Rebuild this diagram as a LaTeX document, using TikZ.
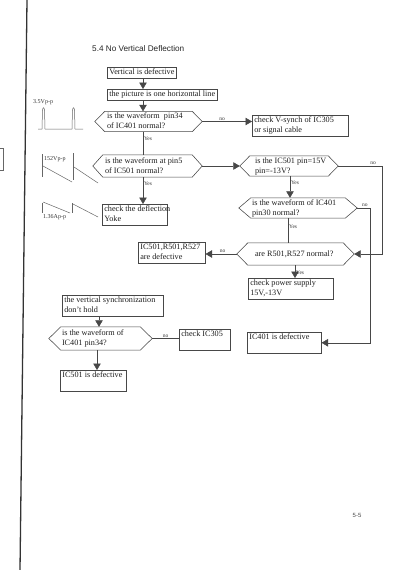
\documentclass[tikz,border=0pt]{standalone}
\usepackage{fontspec}
\setmainfont{Liberation Serif}
\newfontfamily\sansf{Liberation Sans}
\usetikzlibrary{arrows.meta}
\newcommand\txt{\fontsize{8.2}{10}\selectfont}
\newcommand\hexin[3]{\makebox[#1pt][l]{\hspace*{#2pt}\begin{tabular}{@{}l@{}}#3\end{tabular}}}
\newcommand\boxin[2]{\makebox[#1pt][l]{\begin{tabular}{@{}l@{}}#2\end{tabular}}}
\newcommand\hexof[2]{\draw[ln] (#1.west) -- ([xshift=#2pt]#1.north west) -- ([xshift=-#2pt]#1.north east) -- (#1.east) -- ([xshift=-#2pt]#1.south east) -- ([xshift=#2pt]#1.south west) -- cycle;}
\begin{document}
\begin{tikzpicture}[x=1pt,y=-1pt,
 ln/.style={draw=black!72, line width=0.55pt},
 box/.style={ln, anchor=north west, inner xsep=2pt, inner ysep=0.5pt, font=\txt, text=black!88},
 hexa/.style={anchor=center, inner sep=0pt, font=\txt, text=black!88},
 arr/.style={ln, -{Triangle[length=6.5pt,width=7.5pt]}},
 lab/.style={font=\fontsize{5.5}{6}\selectfont, text=black!80, inner sep=0.8pt},
 wlab/.style={font=\fontsize{6}{7}\selectfont, text=black!80, inner sep=0pt, anchor=west},
 wave/.style={draw=black!60, line width=0.5pt}]
\useasboundingbox[fill=white] (0,0) rectangle (400,570);
% x positions of vertical connectors
\coordinate (xA) at (143,0);
\coordinate (xB) at (290,0);
\coordinate (xC) at (288,0);
\coordinate (xD) at (295,0);
\coordinate (xE) at (99,0);
\coordinate (xF) at (97,0);
\coordinate (xR1) at (382,0);
\coordinate (xR2) at (370,0);
% title
\node[font=\sansf\fontsize{8.2}{10}\selectfont, text=black!85, anchor=west, inner sep=0pt] (title) at (92,49) {5.4 No Vertical Deflection};
% flow nodes
\node[box] (b1) at (107,67) {\boxin{65}{Vertical is defective}};
\node[box] (b2) at (107,89) {\boxin{106}{the picture is one horizontal line}};
\node[hexa, minimum height=19pt] (h1) at (148.5,121.5) {\hexin{107}{12}{is the waveform\ \ pin34\\of IC401 normal?}};
\hexof{h1}{10}
\node[box] (chk) at (252,115) {\boxin{92}{check V-synch of IC305\\or signal cable}};
\node[hexa, minimum height=22pt] (h2) at (147.5,166) {\hexin{109}{12}{is the waveform at pin5\\of IC501 normal?}};
\hexof{h2}{10}
\node[hexa, minimum height=20pt] (h3) at (289,166) {\hexin{98}{15}{is the IC501 pin=15V\\pin=-13V?}};
\hexof{h3}{10}
\node[box] (yoke) at (102,204) {\boxin{61}{check the deflection\\Yoke}};
\node[hexa, minimum height=20pt] (h4) at (298,208) {\hexin{118}{13}{is the waveform of IC401\\pin30 normal?}};
\hexof{h4}{12}
\node[hexa, minimum height=22pt] (h5) at (295.5,254) {\hexin{117}{18}{are R501,R527 normal?}};
\hexof{h5}{11}
\node[box] (defa) at (138,242) {\boxin{63}{IC501,R501,R527\\are defective}};
\node[box] (pwr) at (248,278) {\boxin{81}{check power supply\\15V,-13V}};
\node[box] (sync) at (62,295) {\boxin{97}{the vertical synchronization\\don't hold}};
\node[hexa, minimum height=23pt] (h6) at (100.5,338.5) {\hexin{103}{13}{is the waveform of\\IC401 pin34?}};
\hexof{h6}{12}
\node[box, text depth=13pt] (ic305) at (179,329) {\boxin{47}{check IC305}};
\node[box, text depth=13pt] (ic401) at (247,332) {\boxin{70}{IC401 is defective}};
\node[box, text depth=13pt] (ic501) at (60,370) {\boxin{62}{IC501 is defective}};
% connectors
\draw[arr] (b1.south -| xA) -- (b2.north -| xA);
\draw[arr] (b2.south -| xA) -- (h1.north -| xA);
\draw[arr] (h1.east) -- node[lab, above, pos=0.4]{no} (h1.east -| chk.west);
\draw[ln] (h1.south -| xA) -- node[lab, right, pos=0.3]{Yes} (h2.north -| xA);
\draw[arr] (h2.east) -- (h3.west);
\draw[arr] (h2.south -| xA) -- node[lab, right, pos=0.25]{Yes} (yoke.north -| xA);
\draw[arr] (h3.south -| xB) -- node[lab, right, pos=0.3]{Yes} (h4.north -| xB);
\draw[arr] (h3.east) -- node[lab, above, pos=0.8]{no} (h3.east -| xR1) -- (h5.east -| xR1) -- (h5.east);
\draw[arr] (h4.east) -- node[lab, above, pos=0.6]{no} (h4.east -| xR2) -- (ic401.east -| xR2) -- (ic401.east);
\draw[ln] (h4.south -| xC) -- node[lab, right, pos=0.35]{Yes} (h5.north -| xC);
\draw[arr] (h5.west) -- node[lab, above, pos=0.45]{no} (h5.west -| defa.east);
\draw[arr] (h5.south -| xD) -- node[lab, right, pos=0.6]{Yes} (pwr.north -| xD);
\draw[arr] (sync.south -| xE) -- (h6.north -| xE);
\draw[ln] (h6.east) -- node[lab, above, pos=0.5]{no} (h6.east -| ic305.west);
\draw[arr] (h6.south -| xF) -- (ic501.north -| xF);
% waveforms
\node[wlab] (w1) at (33,102) {3.5Vp-p};
\draw[wave] (38,129) -- (42,129) -- (42.5,110) .. controls (43,107) and (44,107) .. (44.5,110) -- (45,129) -- (72,129) -- (72.5,110) .. controls (73,107) and (74,107) .. (74.5,110) -- (75,129) -- (83,129);
\node[wlab] (w2) at (44,159) {152Vp-p};
\draw[wave] (42,154) -- (42,177);
\draw[wave] (43,166) -- (72,182);
\draw[wave] (73,153) -- (73,180);
\draw[wave] (74,167) -- (98,183);
\node[wlab] (w3) at (43,217) {1.36Ap-p};
\draw[wave] (42,203) -- (42,213);
\draw[wave] (43,202) -- (70,213);
\draw[wave] (72,203) -- (72,213);
\draw[wave] (73,204) -- (98,217);
% page edge marks
\draw[black!80, line width=1.3pt] (27,0) -- (20,570);
\draw[black!60, line width=0.5pt] (0,148) -- (3,148) -- (3,170) -- (0,170);
\node[font=\sansf\fontsize{6}{7}\selectfont, text=black!70] (pg) at (357,515) {5-5};
\end{tikzpicture}
\end{document}
